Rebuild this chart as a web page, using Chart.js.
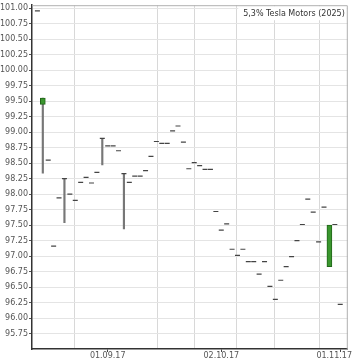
<!DOCTYPE html>
<html>
<head>
<meta charset="utf-8">
<script src="https://cdn.jsdelivr.net/npm/chart.js@4.4.0/dist/chart.umd.min.js"></script>
<style>
  html, body { margin: 0; padding: 0; background: #fff; }
</style>
</head>
<body>
<canvas id="chart" width="353" height="360"></canvas>
<script>
var title = '5,3% Tesla Motors (2025)';

// one value per trading day, day 1 = 15.08.17 ... day 57 = 01.11.17
var closes = [100.96, null, 98.55, 97.16, 97.94, 98.25, 98.00, 97.90, 98.19, 98.27,
  98.18, 98.35, 98.90, 98.78, 98.78, 98.70, 98.33, 98.19, 98.29, 98.29,
  98.38, 98.61, 98.85, 98.82, 98.82, 99.02, 99.10, 98.84, 98.41, 98.51,
  98.46, 98.40, 98.40, 97.72, 97.42, 97.52, 97.11, 97.01, 97.11, 96.91,
  96.91, 96.71, 96.91, 96.51, 96.30, 96.61, 96.83, 96.99, 97.25, 97.51,
  97.92, 97.71, 97.23, 97.79, null, 97.51, 96.22];

// days with a low/high range
var rangeDays = [2, 6, 13, 17];
var rangeLow = [98.34, 97.54, 98.47, 97.44];
var rangeHigh = [99.55, 98.25, 98.90, 98.33];

// rising days (open -> close)
var upDays = [2, 55];
var upOpen = [99.45, 96.83];
var upClose = [99.55, 97.50];

var xTickDays = [14, 35, 57];
var xTickLabels = ['01.09.17', '02.10.17', '01.11.17'];
var xGridDays = [7.9, 23.2, 30.1, 37.8, 44.8, 53.1];

var yTicks = [95.75, 96.00, 96.25, 96.50, 96.75, 97.00, 97.25, 97.50, 97.75, 98.00, 98.25,
  98.50, 98.75, 99.00, 99.25, 99.50, 99.75, 100.00, 100.25, 100.50, 100.75, 101.00];

var FONT = '"DejaVu Sans"';

function isLabelDay(v) {
  return xTickDays.indexOf(v) >= 0;
}

var decor = {
  id: 'decor',
  afterDraw: function (chart) {
    var c = chart.ctx;
    var a = chart.chartArea;
    var xs = chart.scales.x;
    c.save();
    c.font = '8px ' + FONT;
    var w = c.measureText(title).width;
    c.fillStyle = '#fff';
    c.fillRect(a.right - w - 8, a.top + 1, w + 7, 14);
    c.fillStyle = '#333';
    c.textAlign = 'right';
    c.textBaseline = 'middle';
    c.fillText(title, a.right - 3, a.top + 9);

    c.strokeStyle = '#b0b0b0';
    c.lineWidth = 1;
    c.beginPath();
    c.moveTo(a.left, a.top + 0.5);
    c.lineTo(a.right - 0.5, a.top + 0.5);
    c.lineTo(a.right - 0.5, a.bottom);
    c.stroke();

    c.fillStyle = '#555';
    c.textAlign = 'center';
    c.textBaseline = 'top';
    xTickDays.forEach(function (d, i) {
      var tw = c.measureText(xTickLabels[i]).width;
      var px = Math.min(xs.getPixelForValue(d), chart.width - tw / 2 - 1);
      c.fillText(xTickLabels[i], px, a.bottom + 3);
    });
    c.restore();
  }
};

var dashData = [];
closes.forEach(function (v, i) {
  if (v !== null) dashData.push({ x: i + 1, y: v });
});

new Chart(document.getElementById('chart'), {
  type: 'bar',
  data: {
    datasets: [
      {
        type: 'bar',
        data: rangeDays.map(function (d, i) {
          return { x: d, y: [rangeLow[i], rangeHigh[i]] };
        }),
        backgroundColor: '#777',
        barThickness: 1.5,
        grouped: false,
        order: 3
      },
      {
        type: 'bar',
        data: upDays.map(function (d, i) {
          return { x: d, y: [upOpen[i], upClose[i]] };
        }),
        backgroundColor: '#3a962e',
        borderColor: '#22661a',
        borderWidth: 1,
        borderSkipped: false,
        barThickness: 5,
        grouped: false,
        order: 2
      },
      {
        type: 'scatter',
        data: dashData,
        pointStyle: 'line',
        radius: 2.5,
        borderColor: '#444',
        borderWidth: 1.2,
        order: 1
      }
    ]
  },
  options: {
    responsive: false,
    animation: false,
    devicePixelRatio: 1,
    layout: { padding: { top: 1, right: 3, left: 0, bottom: 0 } },
    plugins: { legend: { display: false }, tooltip: { enabled: false } },
    scales: {
      x: {
        type: 'linear',
        min: 0,
        max: 58.4,
        offset: false,
        afterBuildTicks: function (s) {
          s.ticks = xGridDays.concat(xTickDays).map(function (v) {
            return { value: v };
          });
        },
        ticks: { display: false },
        grid: {
          offset: false,
          color: function (ctx) {
            return ctx.tick && isLabelDay(ctx.tick.value) ? 'rgba(0,0,0,0)' : '#d8d8d8';
          },
          tickColor: function (ctx) {
            return ctx.tick && isLabelDay(ctx.tick.value) ? '#444' : 'rgba(0,0,0,0)';
          },
          tickLength: 3
        },
        border: { color: '#333', width: 1.5 },
        afterFit: function (s) {
          s.height = 11;
          s.paddingLeft = 0;
          s.paddingRight = 0;
        }
      },
      y: {
        min: 95.5,
        max: 101.05,
        afterBuildTicks: function (s) {
          s.ticks = yTicks.map(function (v) {
            return { value: v };
          });
        },
        ticks: {
          font: { family: FONT, size: 8 },
          color: '#555',
          padding: 1,
          autoSkip: false,
          callback: function (v) {
            return v.toFixed(2);
          }
        },
        grid: { color: '#e4e4e4', tickColor: '#555', tickLength: 3 },
        border: { color: '#333', width: 1.5 },
        afterFit: function (s) {
          s.width = 32;
          s.paddingTop = 0;
          s.paddingBottom = 0;
        }
      }
    }
  },
  plugins: [decor]
});
</script>
</body>
</html>
